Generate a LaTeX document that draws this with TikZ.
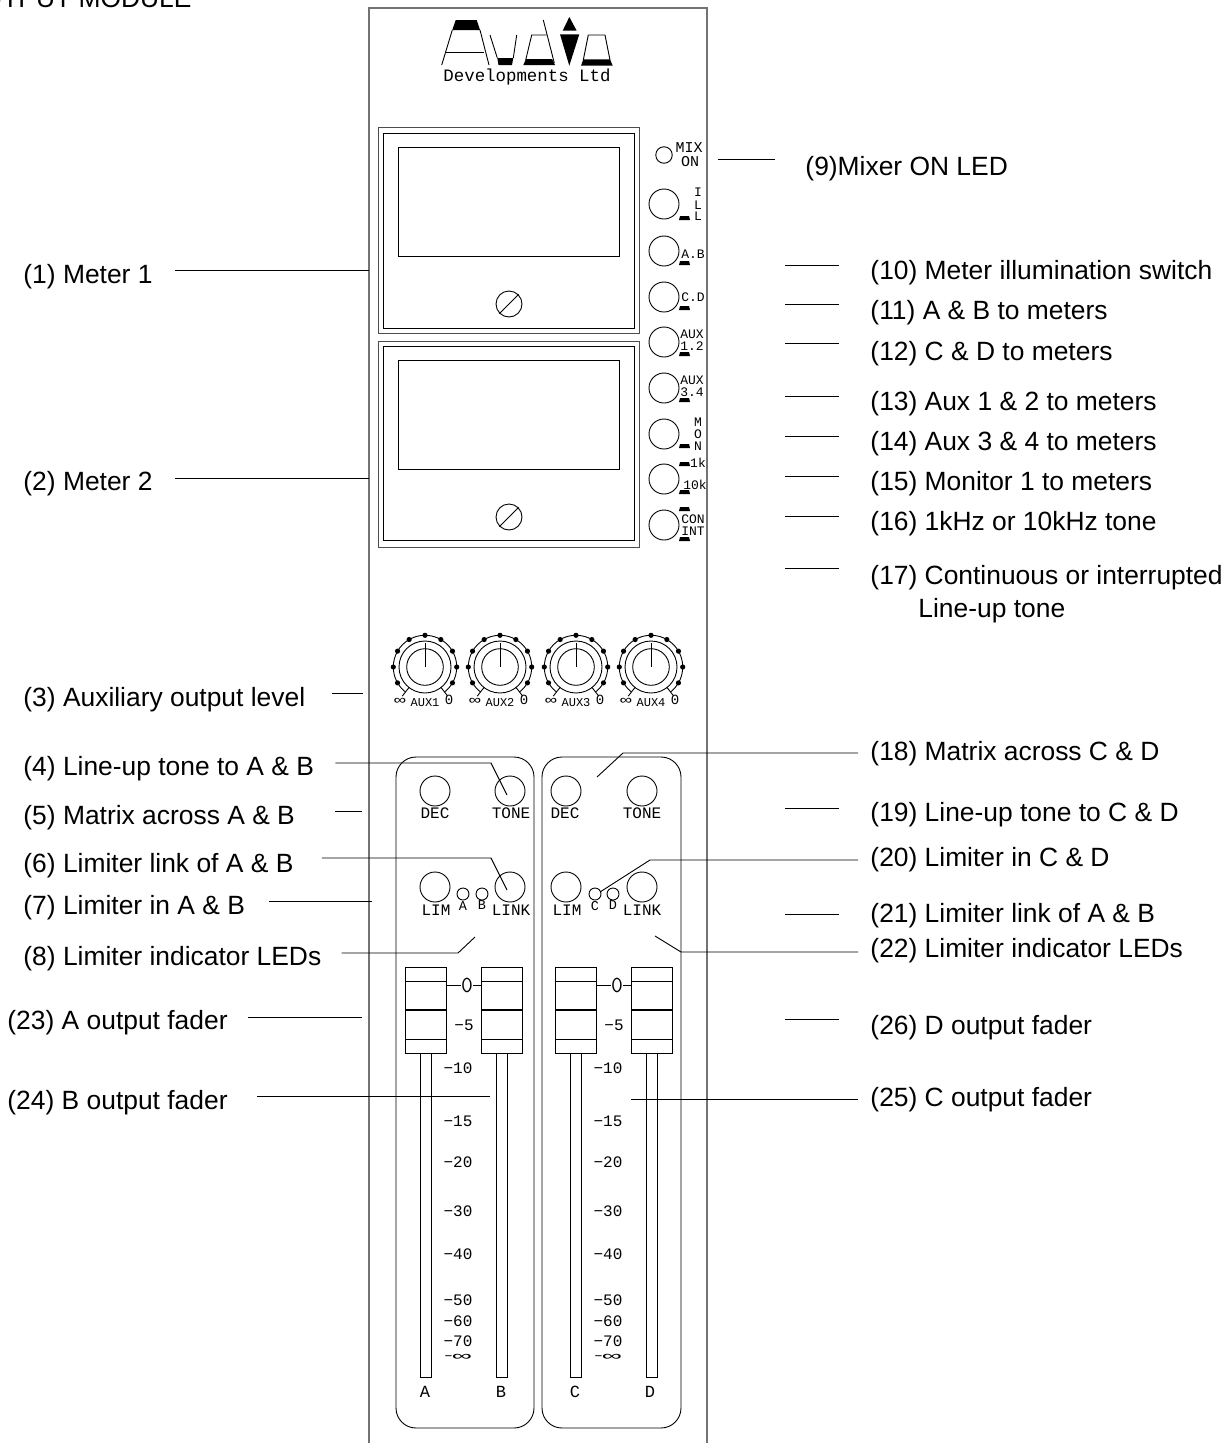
\documentclass[tikz,border=0pt]{standalone}
\usepackage{fontspec}
\setmainfont{Liberation Sans}
\newfontfamily\panelfont{Liberation Mono}
\newcommand{\psize}[1]{\panelfont\fontsize{#1}{#1}\selectfont}
\tikzset{
  lamp/.pic={\fill (-4.5,-2) -- (4.5,-2) -- (5.5,2) -- (-5.5,2) -- cycle;},
  knob/.pic={
    \draw (0,0) circle (18.3);
    \draw (0,0) circle (26);
    \draw (0,0) -- (0,-24);
    \draw (-52:31.7 and -31.7) arc[start angle=52,end angle=-232,radius=31.7];
    \draw (52:26 and 26) -- (52:37 and 37);
    \draw (128:26 and 26) -- (128:37 and 37);
    \foreach \a in {-30,0,...,210} \fill (\a:31.7 and -31.7) circle (2.6);
  },
  fader/.pic={
    \draw (0,0) rectangle (41,86);
    \draw (0,14) -- (41,14);
    \draw[line width=1.6] (0,43) -- (41,43);
    \draw (0,72) -- (41,72);
    \draw (15,86) rectangle (26.5,410);
  }
}
\begin{document}
\begin{tikzpicture}[x=1pt,y=-1pt,line width=0.9pt]
\tikzstyle{callout}=[inner sep=0pt,anchor=west,font=\fontsize{26.4}{26.4}\selectfont];
\tikzstyle{btn}=[draw,shape=circle,inner sep=0pt,minimum size=30pt];
\tikzstyle{led}=[draw,shape=circle,inner sep=0pt,minimum size=12pt];
\tikzstyle{txt}=[inner sep=0pt,font=\psize{16}];
\tikzstyle{small}=[inner sep=0pt,font=\psize{13}];
\tikzstyle{panel}=[draw=black!55,line width=1.4pt];
\useasboundingbox (0,0) rectangle (1231,1443);

\draw[panel] (369,1443) -- (369,8) -- (707,8) -- (707,1443);
\draw (192,7) node[inner sep=0pt,anchor=base east,font=\fontsize{26.4}{26.4}\selectfont] (title) {OUTPUT MODULE};

% logo
\fill (455.7,20) -- (476.7,20) -- (480,30) -- (452.3,30) -- cycle;
\draw (452.3,30) -- (441.7,65);
\draw (480,30) -- (489,65);
\draw (446,52.7) -- (484,52.7);
\draw (490,35) -- (497.3,58);
\draw (516.7,35) -- (513.3,58);
\fill (497.3,58) -- (513.3,58) -- (512,65) -- (498.5,65) -- cycle;
\draw (543.3,20) -- (554.3,63);
\draw (546.7,35) -- (531.7,35) -- (525.7,60);
\fill (526,59) -- (552,59) -- (555,65) -- (523.3,65) -- cycle;
\fill (569.3,17) -- (562.7,30.7) -- (576.7,30.7) -- cycle;
\fill (560,34.3) -- (579.3,34.3) -- (569.3,65.7) -- cycle;
\draw (605,35) -- (588.3,35) -- (583.3,60);
\draw (605,35) -- (610,60);
\fill (583.3,59.3) -- (610,59.3) -- (612.7,65.7) -- (581,65.7) -- cycle;
\draw (527,77) node[inner sep=0pt,font=\psize{17.4}] (maker) {Developments Ltd};

% meters
\draw[black!70] (378,127) rectangle (639,333);
\draw (383.5,133) rectangle (634,328);
\draw (398.5,147) rectangle (619,256);
\draw (509,304) node[btn,minimum size=26pt] (screwa) {};
\draw (screwa.south west) -- (screwa.north east);
\draw[black!70] (378,341) rectangle (639,547);
\draw (383.5,346) rectangle (634,540.5);
\draw (398.5,360) rectangle (619,469);
\draw (509,517) node[btn,minimum size=26pt] (screwb) {};
\draw (screwb.south west) -- (screwb.north east);

% meter switches
\draw (664,155) node[led,minimum size=16.5pt] (mix) {};
\draw (664,204) node[btn] (ill) {};
\draw (664,251) node[btn] (ab) {};
\draw (664,297) node[btn] (cd) {};
\draw (664,342) node[btn] (auxa) {};
\draw (664,388) node[btn] (auxb) {};
\draw (664,434) node[btn] (mon) {};
\draw (664,479) node[btn] (tonef) {};
\draw (664,525) node[btn] (con) {};
\draw (689,148) node[txt,font=\psize{15}] (mixa) {MIX};
\draw (690,162) node[txt,font=\psize{15}] (mixb) {ON};
\draw (698,192) node[small] (illa) {I};
\draw (698,205) node[small] (illb) {L};
\draw (698,216) node[small] (illc) {L};
\draw (693,254) node[small] (abt) {A.B};
\draw (693,297) node[small] (cdt) {C.D};
\draw (692,334) node[small] (auxat) {AUX};
\draw (692,346) node[small] (auxan) {1.2};
\draw (692,380) node[small] (auxbt) {AUX};
\draw (692,392) node[small] (auxbn) {3.4};
\draw (698,422) node[small] (mona) {M};
\draw (698,434) node[small] (monb) {O};
\draw (698,446) node[small] (monc) {N};
\draw (698,463) node[small] (onek) {1k};
\draw (695,485) node[small] (tenk) {10k};
\draw (693,519) node[small] (cont) {CON};
\draw (693,531) node[small] (intt) {INT};
\draw (684.5,218) pic {lamp};
\draw (684.5,263) pic {lamp};
\draw (684.5,308) pic {lamp};
\draw (684.5,354) pic {lamp};
\draw (684.5,400) pic {lamp};
\draw (684.5,446) pic {lamp};
\draw (684.5,464) pic {lamp};
\draw (684.5,492) pic {lamp};
\draw (684.5,509) pic {lamp};
\draw (684.5,539) pic {lamp};

% aux knobs
\draw (425,667) pic {knob};
\draw (500,667) pic {knob};
\draw (576,667) pic {knob};
\draw (651,667) pic {knob};
\draw (425,703) node[inner sep=0pt,font=\psize{12}] (auxone) {AUX1};
\draw (500,703) node[inner sep=0pt,font=\psize{12}] (auxtwo) {AUX2};
\draw (576,703) node[inner sep=0pt,font=\psize{12}] (auxthree) {AUX3};
\draw (651,703) node[inner sep=0pt,font=\psize{12}] (auxfour) {AUX4};
\foreach \x in {400,475,551,626} \draw (\x,701) node[inner sep=0pt,font=\psize{13}] (inf\x) {\scalebox{1.5}[1]{∞}};
\foreach \x in {449,524,600,675} \draw (\x,700) node[small,font=\psize{14}] (nil\x) {0};

% channel strips
\draw[rounded corners=20pt] (396,757) rectangle (534,1428);
\draw[rounded corners=20pt] (542,757) rectangle (681,1428);
\draw (435,791) node[btn] (deca) {};
\draw (510,791) node[btn] (tonea) {};
\draw (566,791) node[btn] (decb) {};
\draw (642,791) node[btn] (toneb) {};
\draw (435,887) node[btn] (lima) {};
\draw (510,887) node[btn] (linka) {};
\draw (566,887) node[btn] (limb) {};
\draw (642,887) node[btn] (linkb) {};
\draw (463,894) node[led] (leda) {};
\draw (482,894) node[led] (ledb) {};
\draw (595,894) node[led] (ledc) {};
\draw (613,894) node[led] (ledd) {};
\draw (435,813) node[txt] (decta) {DEC};
\draw (511,813) node[txt] (toneta) {TONE};
\draw (565,813) node[txt] (dectb) {DEC};
\draw (642,813) node[txt] (onetb) {TONE};
\draw (436,910) node[txt] (limta) {LIM};
\draw (511,910) node[txt] (linkta) {LINK};
\draw (567,910) node[txt] (limtb) {LIM};
\draw (642,910) node[txt] (linktb) {LINK};
\draw (463,906) node[inner sep=0pt,font=\psize{13.5}] (leta) {A};
\draw (482,905) node[inner sep=0pt,font=\psize{13.5}] (letb) {B};
\draw (595,906) node[inner sep=0pt,font=\psize{13.5}] (letc) {C};
\draw (613,905) node[inner sep=0pt,font=\psize{13.5}] (letd) {D};

% faders and scales
\draw (405,967) pic {fader};
\draw (481,967) pic {fader};
\draw (555,967) pic {fader};
\draw (631,967) pic {fader};
\foreach \x in {0,150} {
  \draw (467+\x,985) node[inner sep=0pt,font=\ttfamily\fontsize{23}{23}\selectfont] (zero\x) {0};
  \draw (446+\x,985) -- (zero\x);
  \draw (zero\x) -- (481+\x,985);
  \draw (464+\x,1025) node[txt] (five\x) {−5};
  \foreach \v/\y in {10/1068,15/1121,20/1162,30/1211,40/1254,50/1300,60/1321,70/1341}
    \draw (458+\x,\y) node[txt] (sc\x-\v) {−\v};
  \draw (458+\x,1357) node[inner sep=0pt,font=\psize{13}] (sc\x-inf) {−\scalebox{2.4}[1]{∞}};
}
\draw (425,1392) node[txt,font=\psize{17}] (fadea) {A};
\draw (501,1392) node[txt,font=\psize{17}] (fadeb) {B};
\draw (575,1392) node[txt,font=\psize{17}] (fadec) {C};
\draw (650,1392) node[txt,font=\psize{17}] (faded) {D};

% left labels
\draw (23,277) node[callout] (l1) {(1) Meter 1};
\draw (23,484) node[callout] (l2) {(2) Meter 2};
\draw (23,700) node[callout] (l3) {(3) Auxiliary output level};
\draw (23,769) node[callout] (l4) {(4) Line-up tone to A \& B};
\draw (23,818) node[callout] (l5) {(5) Matrix across A \& B};
\draw (23,866) node[callout] (l6) {(6) Limiter link of A \& B};
\draw (23,908) node[callout] (l7) {(7) Limiter in A \& B};
\draw (23,959) node[callout] (l8) {(8) Limiter indicator LEDs};
\draw (7,1023) node[callout] (l23) {(23) A output fader};
\draw (7,1103) node[callout] (l24) {(24) B output fader};

% right labels
\draw (805,169) node[callout] (r9) {(9)Mixer ON LED};
\draw (870,273) node[callout] (r10) {(10) Meter illumination switch};
\draw (870,313) node[callout] (r11) {(11) A \& B to meters};
\draw (870,354) node[callout] (r12) {(12) C \& D to meters};
\draw (870,404) node[callout] (r13) {(13) Aux 1 \& 2 to meters};
\draw (870,444) node[callout] (r14) {(14) Aux 3 \& 4 to meters};
\draw (870,484) node[callout] (r15) {(15) Monitor 1 to meters};
\draw (870,524) node[callout] (r16) {(16) 1kHz or 10kHz tone};
\draw (870,578) node[callout] (r17) {(17) Continuous or interrupted};
\draw (918,611) node[callout] (r17b) {Line-up tone};
\draw (870,754) node[callout] (r18) {(18) Matrix across C \& D};
\draw (870,815) node[callout] (r19) {(19) Line-up tone to C \& D};
\draw (870,860) node[callout] (r20) {(20) Limiter in C \& D};
\draw (870,916) node[callout] (r21) {(21) Limiter link of A \& B};
\draw (870,951) node[callout] (r22) {(22) Limiter indicator LEDs};
\draw (870,1028) node[callout] (r26) {(26) D output fader};
\draw (870,1100) node[callout] (r25) {(25) C output fader};

% free ends
\coordinate (m1) at (369,270);
\coordinate (m2) at (369,478);
\coordinate (m3) at (363,693);
\coordinate (m4) at (507,795);
\coordinate (m5) at (362,811);
\coordinate (m6) at (507,890);
\coordinate (m7) at (372,901);
\coordinate (m8) at (475,937);
\coordinate (m23) at (362,1017);
\coordinate (m24) at (490,1096);
\coordinate (a9) at (718,159);
\coordinate (a10) at (785,265);
\coordinate (a11) at (785,304);
\coordinate (a12) at (785,343);
\coordinate (a13) at (785,396);
\coordinate (a14) at (785,436);
\coordinate (a15) at (785,476);
\coordinate (a16) at (785,516);
\coordinate (a17) at (785,568);
\coordinate (a18) at (597,777);
\coordinate (a19) at (785,808);
\coordinate (a20) at (600,892);
\coordinate (a21) at (785,914);
\coordinate (a22) at (655,936);
\coordinate (a26) at (785,1019);
\coordinate (a25) at (631,1099);

\draw ([shift={(22,-7)}]l1.east) -- (m1);
\draw ([shift={(22,-6)}]l2.east) -- (m2);
\draw ([shift={(26,-7)}]l3.east) -- (m3);
\draw ([shift={(21,-6)}]l4.east) -- (491,763) -- (m4);
\draw ([shift={(40,-7)}]l5.east) -- (m5);
\draw ([shift={(28,-8)}]l6.east) -- (491,858) -- (m6);
\draw ([shift={(24,-7)}]l7.east) -- (m7);
\draw ([shift={(20,-6)}]l8.east) -- (458,953) -- (m8);
\draw ([shift={(20,-6)}]l23.east) -- (m23);
\draw ([shift={(29,-7)}]l24.east) -- (m24);
\draw (a9) -- ([shift={(-30,-10)}]r9.west);
\draw (a10) -- ([shift={(-31,-8)}]r10.west);
\draw (a11) -- ([shift={(-31,-9)}]r11.west);
\draw (a12) -- ([shift={(-31,-11)}]r12.west);
\draw (a13) -- ([shift={(-31,-8)}]r13.west);
\draw (a14) -- ([shift={(-31,-8)}]r14.west);
\draw (a15) -- ([shift={(-31,-8)}]r15.west);
\draw (a16) -- ([shift={(-31,-8)}]r16.west);
\draw (a17) -- ([shift={(-31,-10)}]r17.west);
\draw (a18) -- (623,753) -- ([shift={(-12,-1)}]r18.west);
\draw (a19) -- ([shift={(-31,-7)}]r19.west);
\draw (a20) -- (650,860) -- ([shift={(-12,0)}]r20.west);
\draw (a21) -- ([shift={(-31,-2)}]r21.west);
\draw (a22) -- (681,952) -- ([shift={(-12,1)}]r22.west);
\draw (a26) -- ([shift={(-31,-9)}]r26.west);
\draw (a25) -- ([shift={(-12,-1)}]r25.west);
\end{tikzpicture}
\end{document}
